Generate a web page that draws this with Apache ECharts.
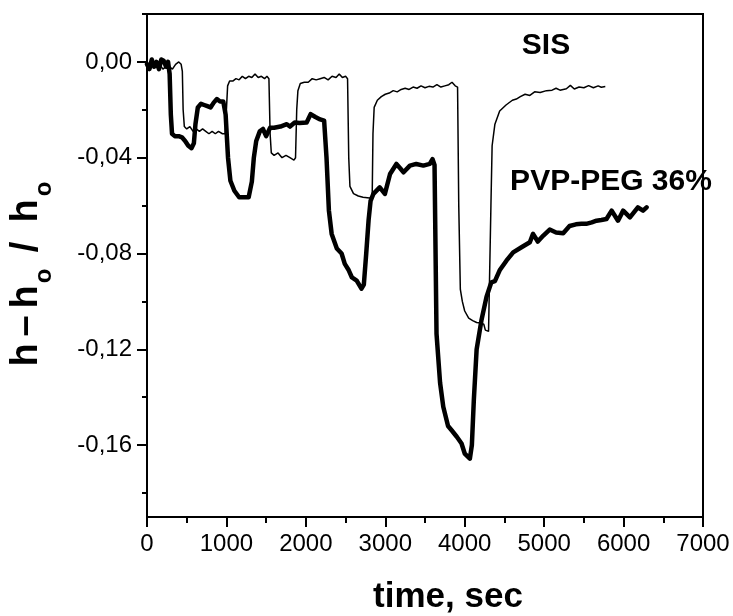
<!DOCTYPE html>
<html>
<head>
<meta charset="utf-8">
<script src="https://cdn.jsdelivr.net/npm/echarts@6/dist/echarts.min.js"></script>
<style>
html,body{margin:0;padding:0;background:#fff;}
#chart{width:733px;height:616px;}
</style>
</head>
<body>
<div id="chart"></div>
<script>
// ---- data ----
var sisTime = [0,40,80,120,160,200,240,280,320,360,400,430,445,455,470,500,540,580,620,660,700,740,780,820,860,900,950,985,1000,1015,1040,1080,1120,1160,1200,1240,1280,1320,1360,1400,1440,1480,1510,1535,1550,1565,1600,1650,1700,1750,1800,1850,1870,1885,1900,1930,1980,2030,2080,2130,2180,2230,2280,2330,2380,2420,2460,2500,2525,2540,2555,2600,2660,2720,2800,2835,2845,2860,2900,2950,3000,3050,3100,3150,3200,3250,3300,3350,3400,3450,3500,3550,3600,3650,3700,3750,3800,3840,3880,3910,3925,3945,3970,4000,4050,4100,4150,4200,4240,4260,4300,4320,4330,4345,4380,4440,4520,4600,4650,4700,4760,4820,4880,4950,5030,5100,5150,5200,5280,5330,5380,5440,5500,5560,5620,5680,5720,5770];
var sisValue = [-0.001,-0.003,-0.001,-0.002,-0.001,-0.003,-0.002,-0.002,-0.003,-0.001,0.000,-0.001,-0.004,-0.020,-0.027,-0.028,-0.027,-0.029,-0.028,-0.029,-0.028,-0.029,-0.030,-0.029,-0.030,-0.029,-0.030,-0.030,-0.020,-0.010,-0.008,-0.008,-0.007,-0.0075,-0.006,-0.007,-0.006,-0.0065,-0.005,-0.0065,-0.006,-0.007,-0.006,-0.007,-0.030,-0.038,-0.039,-0.038,-0.040,-0.039,-0.040,-0.041,-0.040,-0.020,-0.012,-0.009,-0.0085,-0.0085,-0.007,-0.0075,-0.007,-0.0065,-0.0075,-0.006,-0.0065,-0.005,-0.0065,-0.006,-0.007,-0.040,-0.052,-0.055,-0.056,-0.0565,-0.0568,-0.0565,-0.030,-0.019,-0.016,-0.0145,-0.0135,-0.013,-0.012,-0.0125,-0.0115,-0.011,-0.0115,-0.0105,-0.0110,-0.010,-0.0108,-0.0102,-0.0105,-0.0095,-0.0105,-0.010,-0.0095,-0.0085,-0.010,-0.0105,-0.060,-0.095,-0.100,-0.104,-0.107,-0.108,-0.1088,-0.109,-0.1095,-0.112,-0.1125,-0.113,-0.060,-0.035,-0.026,-0.0205,-0.018,-0.016,-0.0155,-0.0145,-0.0135,-0.014,-0.0125,-0.0128,-0.012,-0.0118,-0.011,-0.0118,-0.0112,-0.0098,-0.0113,-0.0105,-0.0108,-0.0099,-0.0108,-0.0100,-0.0106,-0.0103];

var pvpTime = [0,30,60,90,120,150,180,210,240,265,285,300,315,350,400,440,480,520,560,590,610,640,680,720,760,800,840,880,920,960,990,1020,1050,1100,1160,1220,1280,1320,1345,1375,1420,1460,1500,1550,1600,1680,1760,1800,1860,1920,2010,2060,2120,2180,2230,2260,2290,2325,2390,2450,2490,2540,2580,2640,2700,2730,2760,2790,2815,2850,2930,2995,3060,3140,3190,3230,3310,3390,3480,3560,3595,3620,3645,3690,3730,3790,3835,3900,3960,4000,4065,4090,4115,4150,4210,4275,4335,4380,4440,4525,4610,4715,4820,4860,4920,4990,5070,5150,5240,5320,5400,5470,5530,5600,5660,5720,5785,5850,5930,5995,6080,6180,6245,6290];
var pvpValue = [-0.001,-0.003,0.001,-0.002,0.000,-0.003,0.001,0.0005,-0.002,0.000,-0.005,-0.022,-0.030,-0.031,-0.031,-0.0315,-0.033,-0.035,-0.036,-0.034,-0.026,-0.019,-0.0175,-0.018,-0.0185,-0.019,-0.017,-0.0155,-0.0165,-0.0165,-0.022,-0.040,-0.0496,-0.0538,-0.0565,-0.0565,-0.0565,-0.050,-0.040,-0.033,-0.029,-0.028,-0.031,-0.0275,-0.0275,-0.027,-0.026,-0.027,-0.0253,-0.0255,-0.0253,-0.0218,-0.023,-0.024,-0.0245,-0.040,-0.062,-0.0718,-0.0779,-0.080,-0.0843,-0.087,-0.090,-0.0913,-0.0947,-0.093,-0.080,-0.066,-0.058,-0.0551,-0.0524,-0.0551,-0.0468,-0.0426,-0.0445,-0.0461,-0.0433,-0.0426,-0.0433,-0.0426,-0.0406,-0.043,-0.1135,-0.134,-0.144,-0.152,-0.1538,-0.1565,-0.1593,-0.1635,-0.1656,-0.160,-0.141,-0.120,-0.108,-0.098,-0.092,-0.0915,-0.087,-0.083,-0.0795,-0.0774,-0.0753,-0.0718,-0.0750,-0.0725,-0.070,-0.0712,-0.0715,-0.0685,-0.0678,-0.0676,-0.0676,-0.0670,-0.0663,-0.066,-0.0656,-0.0621,-0.0663,-0.0621,-0.0649,-0.0607,-0.0621,-0.0607];

var yMajorTicks = [0, -0.04, -0.08, -0.12, -0.16];
var yMinorTicks = [0.02, -0.02, -0.06, -0.10, -0.14, -0.18];
var xTicks = [0, 1000, 2000, 3000, 4000, 5000, 6000, 7000];

var seriesNames = ['SIS', 'PVP-PEG 36%'];

function zip(a, b) { var out = []; for (var i = 0; i < a.length; i++) out.push([a[i], b[i]]); return out; }

var FONT = "'Liberation Sans', Arial, sans-serif";
var chart = echarts.init(document.getElementById('chart'), null, {renderer: 'canvas'});

var option = {
  animation: false,
  backgroundColor: '#fff',
  grid: { left: 147, right: 30, top: 14, bottom: 99, show: true, borderColor: '#000', borderWidth: 2, backgroundColor: 'transparent' },
  xAxis: {
    type: 'value', min: xTicks[0], max: xTicks[xTicks.length - 1], interval: 1000,
    axisLine: { show: true, onZero: false, lineStyle: { color: '#000', width: 2 } },
    axisTick: { show: true, length: 10, lineStyle: { color: '#000', width: 2 } },
    minorTick: { show: true, splitNumber: 2, length: 6, lineStyle: { color: '#000', width: 2 } },
    axisLabel: { color: '#000', fontSize: 24, fontFamily: FONT, margin: 15,
      formatter: function (v) { return String(v); } },
    splitLine: { show: false }, minorSplitLine: { show: false }
  },
  yAxis: [{
    type: 'value', min: -0.19, max: 0.02, position: 'left',
    axisLine: { show: true, onZero: false, lineStyle: { color: '#000', width: 2 } },
    axisTick: { show: true, customValues: yMajorTicks, length: 10, lineStyle: { color: '#000', width: 2 } },
    axisLabel: { customValues: yMajorTicks, color: '#000', fontSize: 24, fontFamily: FONT, margin: 15,
      formatter: function (v) { return (Math.abs(v) < 1e-9 ? 0 : v).toFixed(2).replace('.', ','); } },
    splitLine: { show: false }
  }, {
    type: 'value', min: -0.19, max: 0.02, position: 'left',
    axisLine: { show: false },
    axisTick: { show: true, customValues: yMinorTicks, length: 5, lineStyle: { color: '#000', width: 2 } },
    axisLabel: { show: false },
    splitLine: { show: false }
  }],
  series: [{
    name: seriesNames[0], type: 'line', showSymbol: false, symbol: 'none',
    data: zip(sisTime, sisValue),
    lineStyle: { color: '#000', width: 1.5 }, z: 3
  }, {
    name: seriesNames[1], type: 'line', showSymbol: false, symbol: 'none',
    data: zip(pvpTime, pvpValue),
    lineStyle: { color: '#000', width: 4.5, join: 'round', cap: 'round' }, z: 4
  }],
  graphic: [
    { type: 'text', x: 546, y: 46, style: { text: seriesNames[0], font: "bold 30px " + FONT, fill: '#000', align: 'center', verticalAlign: 'middle' } },
    { type: 'text', x: 611, y: 182, style: { text: seriesNames[1], font: "bold 30px " + FONT, fill: '#000', align: 'center', verticalAlign: 'middle' } },
    { type: 'text', x: 448, y: 597, style: { text: 'time, sec', font: "bold 35px " + FONT, fill: '#000', align: 'center', verticalAlign: 'middle' } },
    { type: 'text', x: 27, y: 355, rotation: Math.PI / 2, style: { text: 'h', font: "bold 38px " + FONT, fill: '#000', align: 'center', verticalAlign: 'middle' } },
    { type: 'text', x: 27, y: 326, rotation: Math.PI / 2, style: { text: '\u2013', font: "bold 38px " + FONT, fill: '#000', align: 'center', verticalAlign: 'middle' } },
    { type: 'text', x: 27, y: 297, rotation: Math.PI / 2, style: { text: 'h', font: "bold 38px " + FONT, fill: '#000', align: 'center', verticalAlign: 'middle' } },
    { type: 'text', x: 44, y: 276, rotation: Math.PI / 2, style: { text: 'o', font: "bold 24px " + FONT, fill: '#000', align: 'center', verticalAlign: 'middle' } },
    { type: 'text', x: 27, y: 247, rotation: Math.PI / 2, style: { text: '/', font: "bold 38px " + FONT, fill: '#000', align: 'center', verticalAlign: 'middle' } },
    { type: 'text', x: 27, y: 211, rotation: Math.PI / 2, style: { text: 'h', font: "bold 38px " + FONT, fill: '#000', align: 'center', verticalAlign: 'middle' } },
    { type: 'text', x: 44, y: 189, rotation: Math.PI / 2, style: { text: 'o', font: "bold 24px " + FONT, fill: '#000', align: 'center', verticalAlign: 'middle' } }
  ]
};
chart.setOption(option);
</script>
</body>
</html>
